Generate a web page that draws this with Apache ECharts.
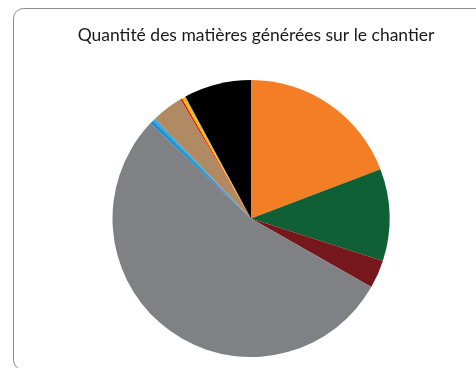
<!DOCTYPE html>
<html>
<head>
<meta charset="utf-8">
<script src="https://cdn.jsdelivr.net/npm/echarts@6/dist/echarts.min.js"></script>
<style>
  html, body { margin: 0; padding: 0; background: #fff; }
  #chart { width: 476px; height: 368px; }
</style>
</head>
<body>
<div id="chart"></div>
<script>
// Share of each material generated on site (percent)
const categories = [
  'Matière A', 'Matière B', 'Matière C', 'Matière D', 'Matière E', 'Matière F',
  'Matière G', 'Matière H', 'Matière I', 'Matière J', 'Matière K'
];
const values = [19.2, 10.75, 3.3, 53.8, 0.45, 0.3, 3.7, 0.2, 0.35, 0.1, 7.85];
const colors = [
  '#F47E25', '#0F6035', '#76171C', '#808184', '#1E8FD2', '#27AAE1',
  '#B08A62', '#FF0000', '#F2C500', '#9B87C8', '#000000'
];
const title = 'Quantité des matières générées sur le chantier';

const chart = echarts.init(document.getElementById('chart'), null, { renderer: 'canvas' });

chart.setOption({
  animation: false,
  backgroundColor: '#ffffff',
  title: {
    text: title,
    left: 251,
    textAlign: 'center',
    top: 21,
    textStyle: {
      fontFamily: 'Lato, "Open Sans", sans-serif',
      fontSize: 17.5,
      fontWeight: 'normal',
      color: '#1a1a1a'
    }
  },
  graphic: [{
    type: 'rect',
    shape: { x: 13.5, y: 8.5, width: 500, height: 361.5, r: 10 },
    style: { fill: 'none', stroke: '#8a8a8a', lineWidth: 1 },
    silent: true
  }],
  series: [{
    type: 'pie',
    center: [251, 218.5],
    radius: [0, 138.5],
    startAngle: 90,
    clockwise: true,
    label: { show: false },
    labelLine: { show: false },
    itemStyle: { borderWidth: 0 },
    emphasis: { disabled: true },
    data: categories.map((name, i) => ({
      name: name,
      value: values[i],
      itemStyle: { color: colors[i] }
    }))
  }]
});
</script>
</body>
</html>
